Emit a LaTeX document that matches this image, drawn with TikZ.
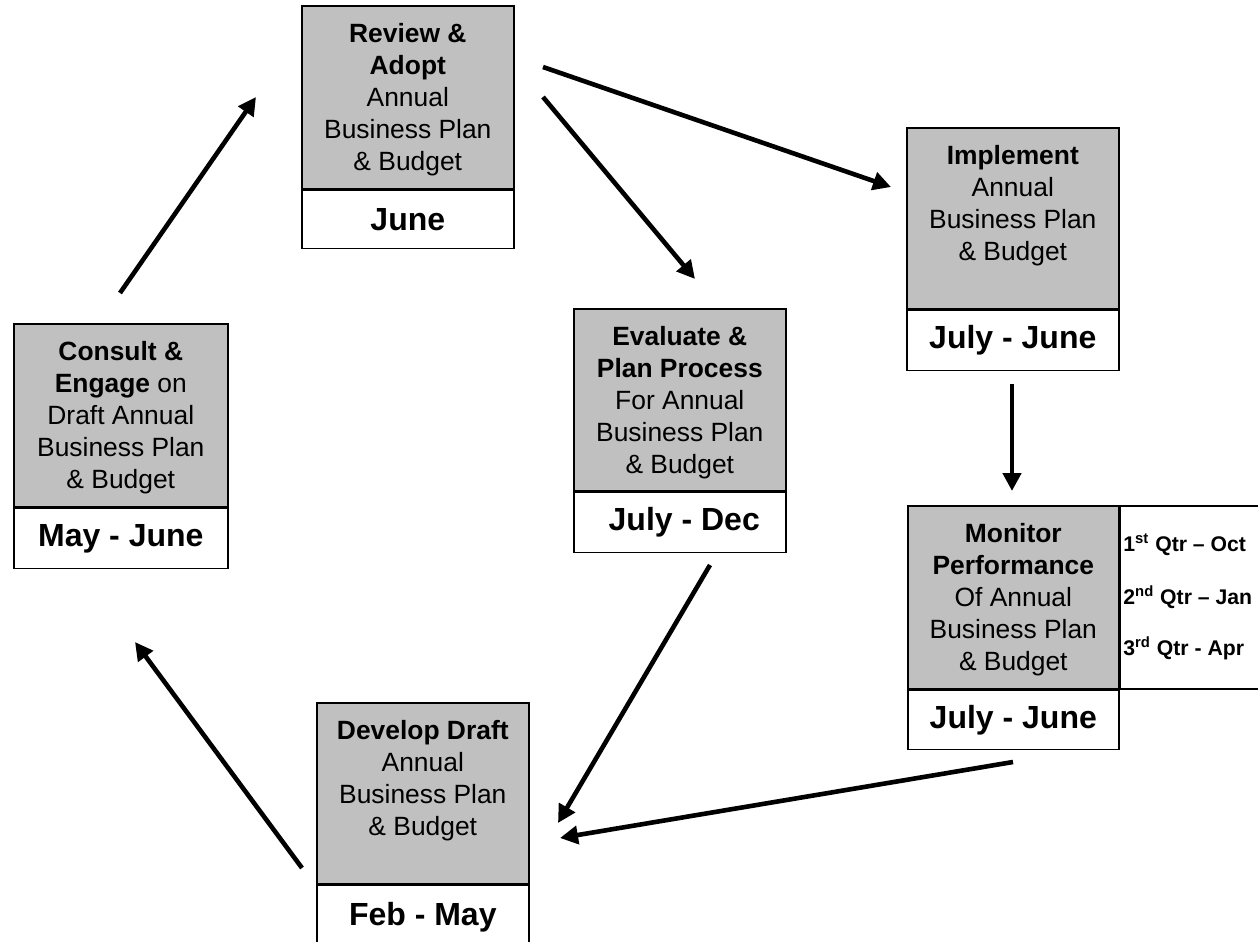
\documentclass[tikz,border=0pt]{standalone}
\usepackage{fontspec}
\setmainfont{Liberation Sans}
\usetikzlibrary{arrows.meta}
\definecolor{boxgray}{RGB}{192,192,192}
\begin{document}
\begin{tikzpicture}[x=0.5pt, y=-0.5pt,
  upper/.style={draw, fill=boxgray, line width=0.8pt, inner sep=0pt, minimum width=106pt, anchor=north west},
  lower/.style={draw, fill=white, line width=0.8pt, inner sep=0pt, minimum width=106pt, anchor=north west,
    font=\bfseries\fontsize{16}{19}\selectfont},
  boxtext/.style={anchor=north, align=center, inner sep=0pt, font=\fontsize{13.2}{16}\selectfont},
  qtext/.style={anchor=west, inner sep=0pt, font=\bfseries\fontsize{10.6}{12}\selectfont},
  arr/.style={line width=2.3pt, -{Triangle[length=9pt,width=9pt]}}]
\useasboundingbox (0,0) rectangle (1258,942);
\fill[white] (0,0) rectangle (1258,942);
\begin{scope}
\clip (0,0) rectangle (1258,942);
% Review & Adopt
\node[upper, minimum height=91.5pt] (rev) at (301,5) {};
\node[boxtext] (revt) at ([yshift=-9pt]rev.north) {\textbf{Review \&}\\\textbf{Adopt}\\Annual\\Business Plan\\\& Budget};
\node[lower, minimum height=29pt] (revd) at (rev.south west) {June};
% Implement
\node[upper, minimum height=90.5pt] (imp) at (906,127) {};
\node[boxtext] (impt) at ([yshift=-9pt]imp.north) {\textbf{Implement}\\Annual\\Business Plan\\\& Budget};
\node[lower, minimum height=30pt] (impd) at (imp.south west) {July - June};
% Evaluate
\node[upper, minimum height=91pt] (eva) at (573,308) {};
\node[boxtext] (evat) at ([yshift=-9pt]eva.north) {\textbf{Evaluate \&}\\\textbf{Plan Process}\\For Annual\\Business Plan\\\& Budget};
\node[lower, minimum height=30pt] (evad) at (eva.south west) {\ July - Dec};
% Consult
\node[upper, minimum height=91.5pt, minimum width=107pt] (con) at (13,323) {};
\node[boxtext] (cont) at ([yshift=-9pt]con.north) {\textbf{Consult \&}\\\textbf{Engage} on\\Draft Annual\\Business Plan\\\& Budget};
\node[lower, minimum height=30pt, minimum width=107pt] (cond) at (con.south west) {May - June};
% Monitor
\node[upper, minimum height=91.5pt, minimum width=105.5pt] (mon) at (907,505) {};
\node[boxtext] (mont) at ([yshift=-9pt]mon.north) {\textbf{Monitor}\\\textbf{Performance}\\Of Annual\\Business Plan\\\& Budget};
\node[lower, minimum height=29.5pt, minimum width=105.5pt] (mond) at (mon.south west) {July - June};
\node[draw, fill=white, line width=0.8pt, inner sep=0pt, minimum width=74pt, minimum height=91.5pt, anchor=north west] (qbox) at (mon.north east) {};
\node[qtext] (q1) at (1123,545) {1\textsuperscript{st} Qtr – Oct};
\node[qtext] (q2) at (1123,597) {2\textsuperscript{nd} Qtr – Jan};
\node[qtext] (q3) at (1123,648) {3\textsuperscript{rd} Qtr - Apr};
% Develop Draft
\node[upper, minimum height=90.5pt] (dev) at (316,702) {};
\node[boxtext] (devt) at ([yshift=-9pt]dev.north) {\textbf{Develop Draft}\\Annual\\Business Plan\\\& Budget};
\node[lower, minimum height=31.5pt] (devd) at (dev.south west) {Feb - May};
% arrows
\coordinate (a1s) at (120,293); \coordinate (a1e) at (256,97);
\coordinate (a2s) at (543,67);  \coordinate (a2e) at (891,187);
\coordinate (a3s) at (543,97);  \coordinate (a3e) at (695,279);
\coordinate (a4s) at (1012,384); \coordinate (a4e) at (1012,491);
\coordinate (a5s) at (710,565); \coordinate (a5e) at (558,823);
\coordinate (a6s) at (1013,762); \coordinate (a6e) at (560,838);
\coordinate (a7s) at (302,868); \coordinate (a7e) at (135,642);
\draw[arr] (a1s) -- (a1e);
\draw[arr] (a2s) -- (a2e);
\draw[arr] (a3s) -- (a3e);
\draw[arr] (a4s) -- (a4e);
\draw[arr] (a5s) -- (a5e);
\draw[arr] (a6s) -- (a6e);
\draw[arr] (a7s) -- (a7e);
\end{scope}
\end{tikzpicture}
\end{document}
